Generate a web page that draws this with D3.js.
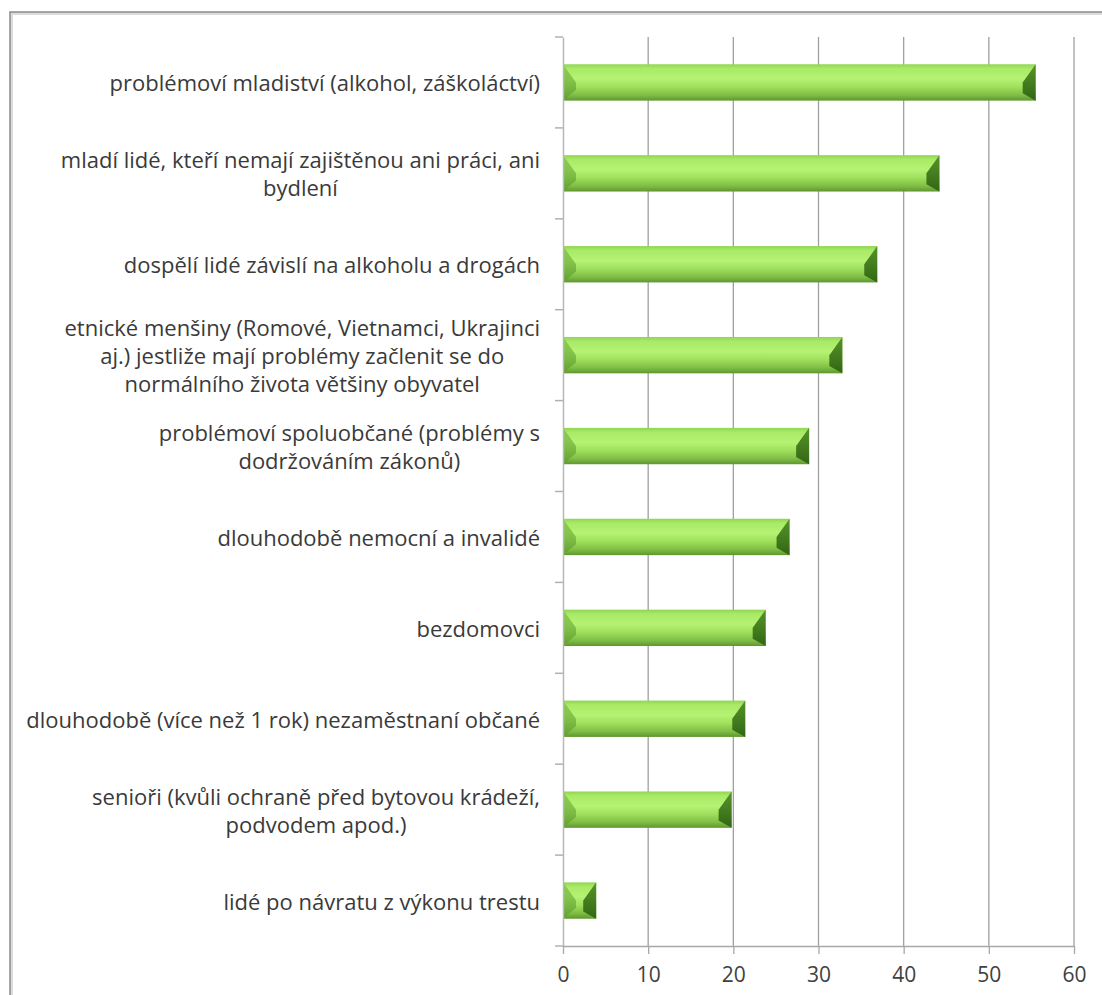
<!DOCTYPE html>
<html>
<head>
<meta charset="utf-8">
<script src="https://cdn.jsdelivr.net/npm/d3@7"></script>
<style>
  html, body { margin: 0; padding: 0; background: #ffffff; }
  svg { display: block; }
</style>
</head>
<body>
<svg id="chart" width="1102" height="995"></svg>
<script>
// ---- data ----
const categories = [
  ["problémoví mladiství (alkohol, záškoláctví)"],
  ["mladí lidé, kteří nemají zajištěnou ani práci, ani", "bydlení"],
  ["dospělí lidé závislí na alkoholu a drogách"],
  ["etnické menšiny (Romové, Vietnamci, Ukrajinci", "aj.) jestliže mají problémy začlenit se do", "normálního života většiny obyvatel"],
  ["problémoví spoluobčané (problémy s", "dodržováním zákonů)"],
  ["dlouhodobě nemocní a invalidé"],
  ["bezdomovci"],
  ["dlouhodobě (více než 1 rok) nezaměstnaní občané"],
  ["senioři (kvůli ochraně před bytovou krádeží,", "podvodem apod.)"],
  ["lidé po návratu z výkonu trestu"]
];
const values = [55.5, 44.2, 36.9, 32.8, 28.9, 26.6, 23.8, 21.4, 19.8, 3.9];
const xTicks = [0, 10, 20, 30, 40, 50, 60];

(function () {
// ---- layout ----
const svg = d3.select("#chart");
const pLeft = 563, pRight = 1074, pTop = 37, pBottom = 946;
const fontFamily = "'Open Sans', Lato, sans-serif";

// outer frame
svg.append("rect")
  .attr("x", 11.5).attr("y", 13.5).attr("width", 1100).attr("height", 1000)
  .attr("fill", "none").attr("stroke", "#dcdcdc").attr("stroke-width", 3);
svg.append("rect")
  .attr("x", 10).attr("y", 12).attr("width", 1100).attr("height", 1000)
  .attr("fill", "none").attr("stroke", "#8a8a8a").attr("stroke-width", 1.5);

const ids = categories.map((d, i) => i);
const x = d3.scaleLinear().domain([0, 60]).range([pLeft, pRight]);
const y = d3.scaleBand().domain(ids).range([pTop, pBottom]).paddingInner(0.6).paddingOuter(0.3);
const yOuter = d3.scaleBand().domain(ids).range([pTop, pBottom]);

// gridlines
svg.append("g").selectAll("line")
  .data(xTicks.filter(t => t > 0))
  .join("line")
  .attr("x1", d => x(d)).attr("x2", d => x(d))
  .attr("y1", pTop).attr("y2", pBottom)
  .attr("stroke", "#a0a0a0").attr("stroke-width", 1.3);

// defs: gradients
const defs = svg.append("defs");
const g = defs.append("linearGradient").attr("id", "barGrad")
  .attr("x1", 0).attr("y1", 0).attr("x2", 0).attr("y2", 1);
[[0, "#8fd652"], [0.12, "#a9ea66"], [0.4, "#b6f274"], [0.62, "#9fe05c"], [0.85, "#7fbd45"], [1, "#5f9630"]]
  .forEach(([o, c]) => g.append("stop").attr("offset", o).attr("stop-color", c));
const gl = defs.append("linearGradient").attr("id", "bevL")
  .attr("x1", 0).attr("y1", 0).attr("x2", 0).attr("y2", 1);
[[0, "#7cc043"], [1, "#5c9a2e"]].forEach(([o, c]) => gl.append("stop").attr("offset", o).attr("stop-color", c));
const gr = defs.append("linearGradient").attr("id", "bevR")
  .attr("x1", 0).attr("y1", 0).attr("x2", 0).attr("y2", 1);
[[0, "#4f8e25"], [1, "#2f6212"]].forEach(([o, c]) => gr.append("stop").attr("offset", o).attr("stop-color", c));

// bars
const bars = svg.append("g").selectAll("g.bar")
  .data(values.map((v, i) => ({v, i})))
  .join("g").attr("class", "bar");

bars.append("rect")
  .attr("x", x(0)).attr("y", d => y(d.i))
  .attr("width", d => x(d.v) - x(0)).attr("height", y.bandwidth())
  .attr("fill", "url(#barGrad)");

const bev = 13;
bars.append("path")
  .attr("fill", "url(#bevL)").attr("opacity", 0.7)
  .attr("d", d => {
    const x0 = x(0), y0 = y(d.i), h = y.bandwidth(), b = Math.min(bev, (x(d.v) - x0) / 2);
    return `M${x0},${y0} L${x0 + b},${y0 + h * 0.5} L${x0 + b},${y0 + h * 0.7} L${x0},${y0 + h} Z`;
  });
bars.append("path")
  .attr("fill", "url(#bevR)").attr("opacity", 0.95)
  .attr("d", d => {
    const x1 = x(d.v), y0 = y(d.i), h = y.bandwidth(), b = Math.min(bev, (x1 - x(0)) / 2);
    return `M${x1},${y0} L${x1 - b},${y0 + h * 0.5} L${x1 - b},${y0 + h * 0.8} L${x1},${y0 + h} Z`;
  });

// left axis
const yAxis = d3.axisLeft(yOuter).tickSize(0).tickFormat("");
const ya = svg.append("g").attr("transform", `translate(${pLeft},0)`).call(yAxis);
ya.select(".domain").attr("stroke", "#b8b8b8").attr("stroke-width", 1.5);
svg.append("g").selectAll("line")
  .data(d3.range(categories.length + 1))
  .join("line")
  .attr("x1", pLeft - 8).attr("x2", pLeft)
  .attr("y1", i => pTop + yOuter.step() * i).attr("y2", i => pTop + yOuter.step() * i)
  .attr("stroke", "#b0b0b0").attr("stroke-width", 1.5);

// bottom axis
const xAxis = d3.axisBottom(x).tickValues(xTicks).tickSize(8).tickSizeOuter(0).tickPadding(13);
const xa = svg.append("g").attr("transform", `translate(0,${pBottom})`).call(xAxis);
xa.select(".domain").attr("stroke", "#a8a8a8").attr("stroke-width", 1.5);
xa.selectAll(".tick line").attr("stroke", "#a8a8a8").attr("stroke-width", 1.3);
xa.selectAll(".tick text")
  .attr("font-family", fontFamily).attr("font-size", 21).attr("fill", "#404040");

// category labels
const labelRight = 540, lineH = 28, fs = 22;
const lg = svg.append("g").attr("font-family", fontFamily).attr("font-size", fs).attr("fill", "#3a3a3a");
categories.forEach((lines, i) => {
  const cy = yOuter(i) + yOuter.bandwidth() / 2;
  const t = lg.append("text").attr("text-anchor", "middle").attr("dominant-baseline", "central");
  const spans = lines.map((ln, k) => t.append("tspan")
    .attr("y", cy + (k - (lines.length - 1) / 2) * lineH).text(ln));
  let maxW = 0;
  spans.forEach(s => { maxW = Math.max(maxW, s.node().getComputedTextLength()); });
  spans.forEach(s => s.attr("x", labelRight - maxW / 2));
});
})();
</script>
</body>
</html>
